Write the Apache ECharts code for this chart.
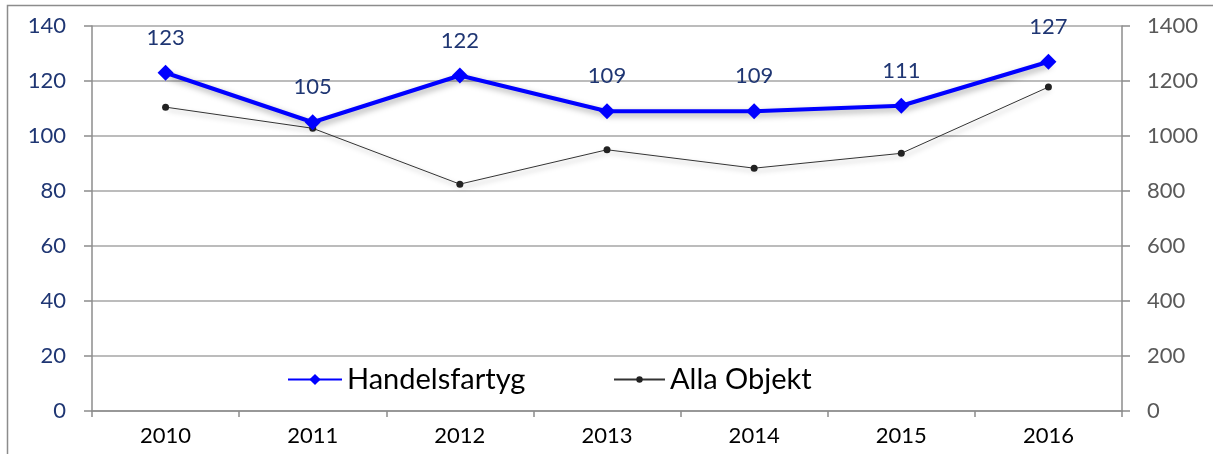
<!DOCTYPE html>
<html>
<head>
<meta charset="utf-8">
<script src="https://cdn.jsdelivr.net/npm/echarts@6/dist/echarts.min.js"></script>
<style>
  html, body { margin: 0; padding: 0; background: #fff; }
  #chart { width: 1213px; height: 454px; }
</style>
</head>
<body>
<div id="chart"></div>
<script>
// chart data
const years = ['2010', '2011', '2012', '2013', '2014', '2015', '2016'];
const handelsfartyg = [123, 105, 122, 109, 109, 111, 127];
const allaObjekt = [1105, 1028, 825, 950, 883, 937, 1178];

var myChart = echarts.init(document.getElementById('chart'));
var font = 'Lato';

var legendText = { fontSize: 29, color: '#000', fontFamily: font };

var option = {
    animation: false,
    textStyle: { fontFamily: font },
    graphic: [{
        type: 'rect',
        shape: { x: 7.5, y: 5.5, width: 1220, height: 460 },
        style: { fill: 'none', stroke: '#8c8c8c', lineWidth: 1.5 },
        silent: true
    }],
    legend: [{
        left: 287,
        top: 365,
        padding: 0,
        itemWidth: 54,
        itemHeight: 14,
        textStyle: legendText,
        data: ['Handelsfartyg']
    }, {
        left: 613,
        top: 365,
        padding: 0,
        itemWidth: 51,
        itemHeight: 8,
        textStyle: legendText,
        data: ['Alla Objekt']
    }],
    grid: {
        left: 92,
        right: 91,
        top: 26,
        bottom: 43
    },
    xAxis: {
        type: 'category',
        data: years,
        boundaryGap: true,
        axisLine: { lineStyle: { color: '#8c8c8c', width: 1.5 } },
        axisTick: { show: true, length: 6, lineStyle: { color: '#8c8c8c', width: 1.5 } },
        axisLabel: { color: '#000', fontSize: 22, margin: 14, fontFamily: font }
    },
    yAxis: [{
        type: 'value',
        min: 0,
        max: 140,
        interval: 20,
        position: 'left',
        axisLine: { show: true, lineStyle: { color: '#8c8c8c', width: 1.5 } },
        axisTick: { show: true, length: 8, lineStyle: { color: '#8c8c8c', width: 1.5 } },
        axisLabel: { color: '#1f3673', fontSize: 22, margin: 26, fontFamily: font },
        splitLine: { lineStyle: { color: '#a6a6a6', width: 1.5 } }
    }, {
        type: 'value',
        min: 0,
        max: 1400,
        interval: 200,
        position: 'right',
        axisLine: { show: true, lineStyle: { color: '#8c8c8c', width: 1.5 } },
        axisTick: { show: true, length: 8, lineStyle: { color: '#8c8c8c', width: 1.5 } },
        axisLabel: { color: '#595959', fontSize: 22, margin: 25, fontFamily: font, formatter: function (v) { return String(v); } },
        splitLine: { show: false }
    }],
    series: [{
        name: 'Alla Objekt',
        type: 'line',
        yAxisIndex: 1,
        data: allaObjekt,
        symbol: 'circle',
        symbolSize: 7,
        z: 2,
        itemStyle: { color: '#222' },
        lineStyle: {
            color: '#333', width: 1,
            shadowColor: 'rgba(0,0,0,0.35)', shadowBlur: 5, shadowOffsetX: 2, shadowOffsetY: 3
        }
    }, {
        name: 'Handelsfartyg',
        type: 'line',
        yAxisIndex: 0,
        data: handelsfartyg,
        symbol: 'diamond',
        symbolSize: 16,
        z: 3,
        itemStyle: { color: '#0000ff' },
        lineStyle: {
            color: '#0000ff', width: 4,
            shadowColor: 'rgba(0,0,0,0.35)', shadowBlur: 6, shadowOffsetX: 2, shadowOffsetY: 3
        },
        label: {
            show: true,
            position: 'top',
            distance: 16,
            color: '#1f3673',
            fontSize: 22,
            fontFamily: font
        }
    }]
};
myChart.setOption(option);
</script>
</body>
</html>
